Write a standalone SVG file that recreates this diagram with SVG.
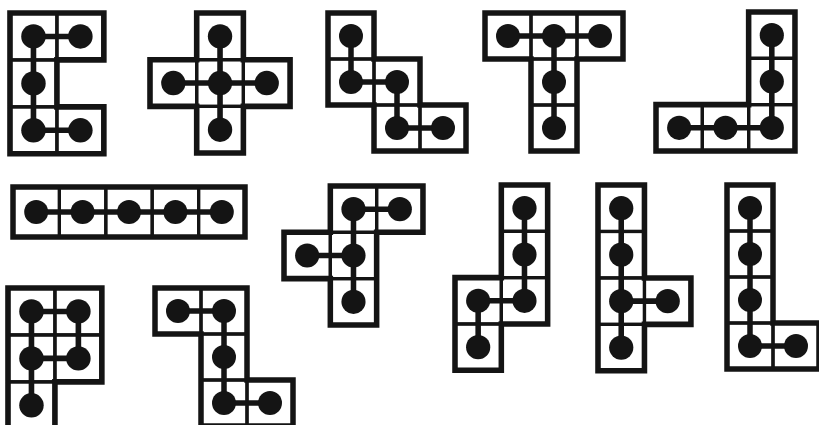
<svg xmlns="http://www.w3.org/2000/svg" xmlns:xlink="http://www.w3.org/1999/xlink" width="819" height="425" viewBox="0 0 819 425">
<style>
.cell{fill:none;stroke:#141414;stroke-width:3.2}
.out{fill:none;stroke:#141414;stroke-width:5.5;stroke-linejoin:miter}
.e{stroke:#141414;stroke-width:5.5;fill:none;stroke-linecap:butt}
.n{fill:#141414}
</style>
<defs>
<rect id="c" width="46" height="46" class="cell"/>
<circle id="d" r="12" class="n"/>
</defs>
<rect width="819" height="425" fill="#fff"/>

<g id="p-C" transform="translate(10,13) scale(1.02)">
<use href="#c" x="0" y="0"/><use href="#c" x="46" y="0"/><use href="#c" x="0" y="46"/><use href="#c" x="0" y="92"/><use href="#c" x="46" y="92"/>
<path class="out" d="M0,0H92V46H46V92H92V138H0Z"/>
<g class="connectors"><path class="e" d="M69,23H23V115H69"/></g>
<use href="#d" x="23" y="23"/><use href="#d" x="69" y="23"/><use href="#d" x="23" y="69"/><use href="#d" x="23" y="115"/><use href="#d" x="69" y="115"/>
</g>

<g id="p-X" transform="translate(150,13) scale(1.015)">
<use href="#c" x="46" y="0"/><use href="#c" x="0" y="46"/><use href="#c" x="46" y="46"/><use href="#c" x="92" y="46"/><use href="#c" x="46" y="92"/>
<path class="out" d="M46,0H92V46H138V92H92V138H46V92H0V46H46Z"/>
<g class="connectors"><path class="e" d="M69,23V115M23,69H115"/></g>
<use href="#d" x="69" y="23"/><use href="#d" x="23" y="69"/><use href="#d" x="69" y="69"/><use href="#d" x="115" y="69"/><use href="#d" x="69" y="115"/>
</g>

<g id="p-W" transform="translate(328,13)">
<use href="#c" x="0" y="0"/><use href="#c" x="0" y="46"/><use href="#c" x="46" y="46"/><use href="#c" x="46" y="92"/><use href="#c" x="92" y="92"/>
<path class="out" d="M0,0H46V46H92V92H138V138H46V92H0Z"/>
<g class="connectors"><path class="e" d="M23,23V69H69V115H115"/></g>
<use href="#d" x="23" y="23"/><use href="#d" x="23" y="69"/><use href="#d" x="69" y="69"/><use href="#d" x="69" y="115"/><use href="#d" x="115" y="115"/>
</g>

<g id="p-T" transform="translate(485,13)">
<use href="#c" x="0" y="0"/><use href="#c" x="46" y="0"/><use href="#c" x="92" y="0"/><use href="#c" x="46" y="46"/><use href="#c" x="46" y="92"/>
<path class="out" d="M0,0H138V46H92V138H46V46H0Z"/>
<g class="connectors"><path class="e" d="M23,23H115M69,23V115"/></g>
<use href="#d" x="23" y="23"/><use href="#d" x="69" y="23"/><use href="#d" x="115" y="23"/><use href="#d" x="69" y="69"/><use href="#d" x="69" y="115"/>
</g>

<g id="p-V" transform="translate(656,12) scale(1.007)">
<use href="#c" x="92" y="0"/><use href="#c" x="92" y="46"/><use href="#c" x="0" y="92"/><use href="#c" x="46" y="92"/><use href="#c" x="92" y="92"/>
<path class="out" d="M92,0H138V138H0V92H92Z"/>
<g class="connectors"><path class="e" d="M115,23V115H23"/></g>
<use href="#d" x="115" y="23"/><use href="#d" x="115" y="69"/><use href="#d" x="23" y="115"/><use href="#d" x="69" y="115"/><use href="#d" x="115" y="115"/>
</g>

<g id="p-I" transform="translate(13,187)">
<rect class="cell" x="0" y="0" width="46.4" height="50"/><rect class="cell" x="46.4" y="0" width="46.4" height="50"/><rect class="cell" x="92.8" y="0" width="46.4" height="50"/><rect class="cell" x="139.2" y="0" width="46.4" height="50"/><rect class="cell" x="185.6" y="0" width="46.4" height="50"/>
<path class="out" d="M0,0H232V50H0Z"/>
<g class="connectors"><path class="e" d="M23.2,25H208.8"/></g>
<use href="#d" x="23.2" y="25"/><use href="#d" x="69.6" y="25"/><use href="#d" x="116" y="25"/><use href="#d" x="162.4" y="25"/><use href="#d" x="208.8" y="25"/>
</g>

<g id="p-P" transform="translate(8,288) scale(1.02)">
<use href="#c" x="0" y="0"/><use href="#c" x="46" y="0"/><use href="#c" x="0" y="46"/><use href="#c" x="46" y="46"/><use href="#c" x="0" y="92"/>
<path class="out" d="M0,0H92V92H46V138H0Z"/>
<g class="connectors"><path class="e" d="M23,23H69V69H23ZM23,69V115"/></g>
<use href="#d" x="23" y="23"/><use href="#d" x="69" y="23"/><use href="#d" x="23" y="69"/><use href="#d" x="69" y="69"/><use href="#d" x="23" y="115"/>
</g>

<g id="p-Z" transform="translate(155,288)">
<use href="#c" x="0" y="0"/><use href="#c" x="46" y="0"/><use href="#c" x="46" y="46"/><use href="#c" x="46" y="92"/><use href="#c" x="92" y="92"/>
<path class="out" d="M0,0H92V92H138V138H46V46H0Z"/>
<g class="connectors"><path class="e" d="M23,23H69V115H115"/></g>
<use href="#d" x="23" y="23"/><use href="#d" x="69" y="23"/><use href="#d" x="69" y="69"/><use href="#d" x="69" y="115"/><use href="#d" x="115" y="115"/>
</g>

<g id="p-F" transform="translate(284,186) scale(1.007)">
<use href="#c" x="46" y="0"/><use href="#c" x="92" y="0"/><use href="#c" x="0" y="46"/><use href="#c" x="46" y="46"/><use href="#c" x="46" y="92"/>
<path class="out" d="M46,0H138V46H92V138H46V92H0V46H46Z"/>
<g class="connectors"><path class="e" d="M115,23H69V115M23,69H69"/></g>
<use href="#d" x="69" y="23"/><use href="#d" x="115" y="23"/><use href="#d" x="23" y="69"/><use href="#d" x="69" y="69"/><use href="#d" x="69" y="115"/>
</g>

<g id="p-N" transform="translate(455,185) scale(1.007)">
<use href="#c" x="46" y="0"/><use href="#c" x="46" y="46"/><use href="#c" x="0" y="92"/><use href="#c" x="46" y="92"/><use href="#c" x="0" y="138"/>
<path class="out" d="M46,0H92V138H46V184H0V92H46Z"/>
<g class="connectors"><path class="e" d="M69,23V115H23V161"/></g>
<use href="#d" x="69" y="23"/><use href="#d" x="69" y="69"/><use href="#d" x="23" y="115"/><use href="#d" x="69" y="115"/><use href="#d" x="23" y="161"/>
</g>

<g id="p-Y" transform="translate(598,185) scale(1.01)">
<use href="#c" x="0" y="0"/><use href="#c" x="0" y="46"/><use href="#c" x="0" y="92"/><use href="#c" x="46" y="92"/><use href="#c" x="0" y="138"/>
<path class="out" d="M0,0H46V92H92V138H46V184H0Z"/>
<g class="connectors"><path class="e" d="M23,23V161M23,115H69"/></g>
<use href="#d" x="23" y="23"/><use href="#d" x="23" y="69"/><use href="#d" x="23" y="115"/><use href="#d" x="69" y="115"/><use href="#d" x="23" y="161"/>
</g>

<g id="p-L" transform="translate(727,185)">
<use href="#c" x="0" y="0"/><use href="#c" x="0" y="46"/><use href="#c" x="0" y="92"/><use href="#c" x="0" y="138"/><use href="#c" x="46" y="138"/>
<path class="out" d="M0,0H46V138H92V184H0Z"/>
<g class="connectors"><path class="e" d="M23,23V161H69"/></g>
<use href="#d" x="23" y="23"/><use href="#d" x="23" y="69"/><use href="#d" x="23" y="115"/><use href="#d" x="23" y="161"/><use href="#d" x="69" y="161"/>
</g>
</svg>
